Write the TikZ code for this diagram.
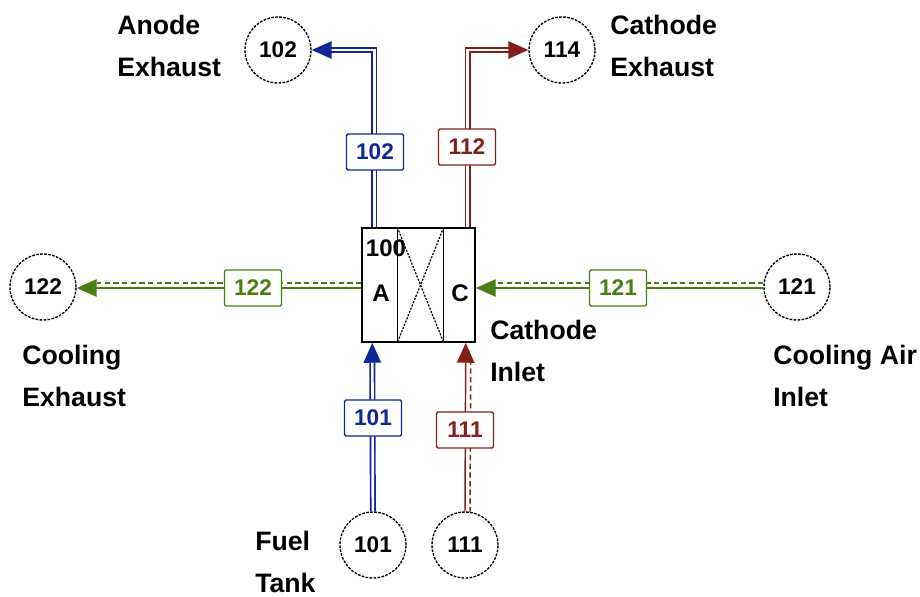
\documentclass[tikz,border=0pt]{standalone}
\usepackage{fontspec}
\setmainfont{Liberation Sans}
\usetikzlibrary{arrows.meta, calc}

\definecolor{anodeblue}{RGB}{16,40,150}
\definecolor{cathred}{RGB}{128,32,24}
\definecolor{coolgreen}{RGB}{72,128,16}

\begin{document}
\begin{tikzpicture}[x=0.75pt, y=-0.75pt,
    port/.style={draw, circle, dash pattern=on 2pt off 1pt, line width=1pt,
                 minimum size=49.5pt, inner sep=0pt, font=\fontsize{17}{17}\selectfont\bfseries},
    tag/.style={draw, fill=white, rounded corners=1pt, line width=1pt, minimum width=42.75pt,
                minimum height=27pt, inner sep=0pt, font=\fontsize{17}{17}\selectfont\bfseries},
    lbl/.style={anchor=west, align=left, inner sep=0pt, font=\fontsize{20}{31}\selectfont\bfseries},
    pipe/.style={double=white, double distance=2pt, line width=1.25pt},
    line/.style={line width=1.1pt},
    dline/.style={line width=1.1pt, dash pattern=on 4pt off 2.5pt},
    tip/.style={-{Triangle[length=15pt, width=13pt]}}
]
\useasboundingbox (0,0) rectangle (920,596);

% Ports
\node[port] (c102) at (278,50) {102};
\node[port] (c114) at (562,50) {114};
\node[port] (c122) at (43,287) {122};
\node[port] (c121) at (797,287) {121};
\node[port] (c101) at (373,545) {101};
\node[port] (c111) at (465,545) {111};

% Fuel cell stack
\node[draw, line width=1.1pt, minimum width=84.75pt, minimum height=85.5pt, inner sep=0pt] (fc) at (418.5,285) {};
\coordinate (sepl) at ($(fc.north west)+(36,0)$);
\coordinate (sepr) at ($(fc.north east)+(-32,0)$);
\draw[line] (sepl) -- (sepl |- fc.south);
\draw[line] (sepr) -- (sepr |- fc.south);
\draw[line width=0.9pt, dash pattern=on 1.6pt off 1pt] (sepl) -- (sepr |- fc.south);
\draw[line width=0.9pt, dash pattern=on 1.6pt off 1pt] (sepr) -- (sepl |- fc.south);
\node[font=\fontsize{18}{18}\selectfont\bfseries] (fcid) at (386,248) {100};
\node[font=\fontsize{18}{18}\selectfont\bfseries] (colA) at (381,293) {A};
\node[font=\fontsize{18}{18}\selectfont\bfseries] (colC) at (460,293) {C};

% Stream ends on the stack
\coordinate (anout) at ($(fc.north west)+(13,0)$);
\coordinate (anin) at ($(fc.south west)+(11,0)$);
\coordinate (caout) at ($(fc.north east)+(-8,0)$);
\coordinate (cain) at ($(fc.south east)+(-10,0)$);
\coordinate (coolout) at ($(fc.west)+(0,3)$);
\coordinate (coolin) at ($(fc.east)+(0,3)$);

% Anode side
\draw[pipe, anodeblue, tip] (anout) |- (c102);
\draw[pipe, anodeblue, tip] (c101) -- (anin);

% Cathode side
\draw[pipe, cathred, tip] (caout) |- (c114);
\draw[line, cathred, tip] (c111.north) -- (cain);
\draw[dline, cathred] ($(c111.north)+(5,1)$) -- ($(cain)+(5,20)$);

% Cooling air
\draw[line, coolgreen, tip] (coolout) -- (c122.east |- coolout);
\draw[dline, coolgreen] ($(coolout)+(0,-5)$) -- ($(c122.east)+(20,-4)$);
\draw[line, coolgreen, tip] (c121.west |- coolin) -- (coolin);
\draw[dline, coolgreen] ($(c121.west)+(0,-4)$) -- ($(coolin)+(20,-5)$);

% Stream tags
\node[tag, draw=anodeblue, text=anodeblue] (t102) at (375,152) {102};
\node[tag, draw=cathred, text=cathred] (t112) at (467,147) {112};
\node[tag, draw=coolgreen, text=coolgreen] (t122) at (253,288) {122};
\node[tag, draw=coolgreen, text=coolgreen] (t121) at (618,288) {121};
\node[tag, draw=anodeblue, text=anodeblue] (t101) at (373,418) {101};
\node[tag, draw=cathred, text=cathred] (t111) at (465,430) {111};

% Labels
\node[lbl] (lanode) at (117,46) {Anode\\Exhaust};
\node[lbl] (lcath) at (610,46) {Cathode\\Exhaust};
\node[lbl] (lcoolex) at (22,376) {Cooling\\Exhaust};
\node[lbl] (lcathin) at (490,351) {Cathode\\Inlet};
\node[lbl] (lcoolin) at (773,376) {Cooling Air\\Inlet};
\node[lbl] (lfuel) at (255,562) {Fuel\\Tank};

\end{tikzpicture}
\end{document}
